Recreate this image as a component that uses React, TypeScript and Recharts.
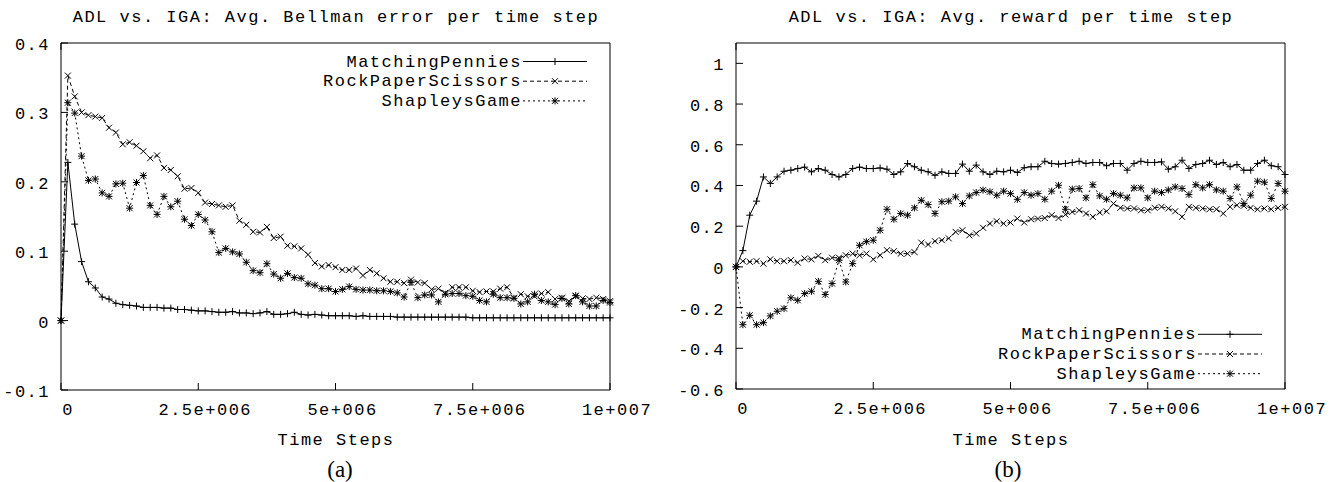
import React from "react";
import { Legend, Line, LineChart, ReferenceArea, XAxis, YAxis } from "recharts";

// time steps at which the averages were sampled
const TIME_STEPS = [
  0, 125000, 250000, 375000, 500000, 625000, 750000, 875000, 1000000, 1125000,
  1250000, 1375000, 1500000, 1625000, 1750000, 1875000, 2000000, 2125000, 2250000, 2375000,
  2500000, 2625000, 2750000, 2875000, 3000000, 3125000, 3250000, 3375000, 3500000, 3625000,
  3750000, 3875000, 4000000, 4125000, 4250000, 4375000, 4500000, 4625000, 4750000, 4875000,
  5000000, 5125000, 5250000, 5375000, 5500000, 5625000, 5750000, 5875000, 6000000, 6125000,
  6250000, 6375000, 6500000, 6625000, 6750000, 6875000, 7000000, 7125000, 7250000, 7375000,
  7500000, 7625000, 7750000, 7875000, 8000000, 8125000, 8250000, 8375000, 8500000, 8625000,
  8750000, 8875000, 9000000, 9125000, 9250000, 9375000, 9500000, 9625000, 9750000, 9875000,
  10000000,
];

const X_TICKS = [0, 2500000, 5000000, 7500000, 10000000];
const X_TICK_LABELS = ["0", "2.5e+006", "5e+006", "7.5e+006", "1e+007"];

const BELLMAN_Y_TICKS = [-0.1, 0, 0.1, 0.2, 0.3, 0.4];
const BELLMAN_Y_LABELS = ["-0.1", "0", "0.1", "0.2", "0.3", "0.4"];
const REWARD_Y_TICKS = [-0.6, -0.4, -0.2, 0, 0.2, 0.4, 0.6, 0.8, 1];
const REWARD_Y_LABELS = ["-0.6", "-0.4", "-0.2", "0", "0.2", "0.4", "0.6", "0.8", "1"];

const SERIES_NAMES = ["MatchingPennies", "RockPaperScissors", "ShapleysGame"];

// (a) avg. Bellman error
const BELLMAN_MP = [
  0, 0.228, 0.139, 0.085, 0.056, 0.047, 0.034, 0.031, 0.025, 0.023,
  0.022, 0.021, 0.019, 0.019, 0.019, 0.018, 0.018, 0.016, 0.016, 0.015,
  0.014, 0.014, 0.013, 0.012, 0.012, 0.013, 0.011, 0.011, 0.010, 0.011,
  0.013, 0.009, 0.009, 0.010, 0.012, 0.009, 0.008, 0.009, 0.008, 0.007,
  0.007, 0.007, 0.007, 0.006, 0.007, 0.006, 0.006, 0.006, 0.006, 0.005,
  0.005, 0.005, 0.005, 0.005, 0.005, 0.005, 0.005, 0.005, 0.005, 0.005,
  0.004, 0.004, 0.004, 0.004, 0.004, 0.004, 0.004, 0.004, 0.004, 0.004,
  0.004, 0.004, 0.004, 0.004, 0.004, 0.004, 0.004, 0.004, 0.004, 0.004, 0.004,
];
const BELLMAN_RPS = [
  0, 0.353, 0.323, 0.300, 0.296, 0.294, 0.292, 0.278, 0.271, 0.254,
  0.257, 0.252, 0.244, 0.234, 0.238, 0.220, 0.217, 0.208, 0.190, 0.191,
  0.184, 0.170, 0.168, 0.166, 0.164, 0.166, 0.144, 0.138, 0.128, 0.127,
  0.135, 0.119, 0.121, 0.108, 0.107, 0.104, 0.095, 0.083, 0.078, 0.080,
  0.077, 0.073, 0.073, 0.075, 0.065, 0.073, 0.068, 0.061, 0.056, 0.056,
  0.054, 0.059, 0.055, 0.054, 0.045, 0.046, 0.040, 0.048, 0.048, 0.048,
  0.043, 0.041, 0.042, 0.042, 0.046, 0.048, 0.033, 0.038, 0.035, 0.035,
  0.039, 0.041, 0.031, 0.033, 0.028, 0.035, 0.032, 0.031, 0.033, 0.031, 0.028,
];
const BELLMAN_SG = [
  0, 0.314, 0.299, 0.237, 0.202, 0.204, 0.184, 0.179, 0.197, 0.198,
  0.162, 0.199, 0.209, 0.166, 0.153, 0.179, 0.164, 0.172, 0.146, 0.137,
  0.153, 0.145, 0.128, 0.098, 0.104, 0.099, 0.096, 0.084, 0.072, 0.069,
  0.082, 0.067, 0.061, 0.068, 0.062, 0.061, 0.053, 0.051, 0.046, 0.046,
  0.042, 0.045, 0.049, 0.045, 0.044, 0.044, 0.043, 0.043, 0.042, 0.040,
  0.034, 0.055, 0.033, 0.037, 0.037, 0.027, 0.038, 0.039, 0.039, 0.036,
  0.035, 0.029, 0.027, 0.038, 0.033, 0.033, 0.032, 0.024, 0.027, 0.038,
  0.029, 0.027, 0.023, 0.032, 0.024, 0.036, 0.027, 0.021, 0.021, 0.029, 0.026,
];

// (b) avg. reward
const REWARD_MP = [
  0, 0.08, 0.254, 0.323, 0.442, 0.41, 0.442, 0.47, 0.475, 0.483,
  0.49, 0.467, 0.483, 0.475, 0.454, 0.442, 0.454, 0.483, 0.49, 0.483,
  0.483, 0.486, 0.48, 0.454, 0.467, 0.508, 0.492, 0.475, 0.467, 0.45,
  0.467, 0.459, 0.459, 0.505, 0.47, 0.5, 0.467, 0.454, 0.47, 0.467,
  0.475, 0.464, 0.487, 0.492, 0.492, 0.519, 0.508, 0.505, 0.508, 0.513,
  0.519, 0.508, 0.513, 0.513, 0.497, 0.508, 0.508, 0.475, 0.508, 0.519,
  0.513, 0.513, 0.516, 0.48, 0.492, 0.524, 0.483, 0.503, 0.508, 0.524,
  0.503, 0.513, 0.492, 0.503, 0.475, 0.475, 0.508, 0.524, 0.497, 0.492, 0.454,
];
const REWARD_RPS = [
  0, 0.028, 0.025, 0.028, 0.016, 0.037, 0.028, 0.028, 0.033, 0.021,
  0.041, 0.037, 0.054, 0.033, 0.045, 0.045, 0.057, 0.065, 0.057, 0.065,
  0.037, 0.057, 0.082, 0.077, 0.065, 0.065, 0.073, 0.119, 0.110, 0.126,
  0.131, 0.140, 0.172, 0.180, 0.155, 0.164, 0.192, 0.213, 0.224, 0.213,
  0.218, 0.237, 0.218, 0.234, 0.237, 0.240, 0.254, 0.240, 0.257, 0.270,
  0.278, 0.262, 0.246, 0.267, 0.273, 0.311, 0.290, 0.287, 0.287, 0.278,
  0.278, 0.290, 0.295, 0.287, 0.273, 0.246, 0.295, 0.290, 0.287, 0.283,
  0.283, 0.262, 0.295, 0.303, 0.300, 0.290, 0.283, 0.287, 0.283, 0.290, 0.295,
];
const REWARD_SG = [
  0, -0.284, -0.238, -0.284, -0.274, -0.241, -0.218, -0.205, -0.152, -0.164,
  -0.131, -0.12, -0.071, -0.136, -0.082, 0.033, -0.074, 0.016, 0.106, 0.124,
  0.131, 0.18, 0.283, 0.234, 0.262, 0.254, 0.29, 0.327, 0.306, 0.262,
  0.32, 0.323, 0.344, 0.311, 0.349, 0.365, 0.377, 0.369, 0.352, 0.372,
  0.36, 0.332, 0.365, 0.352, 0.36, 0.332, 0.372, 0.401, 0.283, 0.382,
  0.385, 0.339, 0.404, 0.349, 0.332, 0.36, 0.352, 0.339, 0.388, 0.388,
  0.339, 0.372, 0.365, 0.378, 0.393, 0.385, 0.355, 0.404, 0.388, 0.404,
  0.378, 0.372, 0.336, 0.393, 0.311, 0.352, 0.421, 0.416, 0.336, 0.41, 0.372,
];

const MONO: React.CSSProperties = {
  fontFamily: "'Liberation Mono', monospace",
  fontSize: 17,
  letterSpacing: "1.5px",
};

const LINE_STYLE: Record<string, { dash?: string; marker: string }> = {
  MatchingPennies: { marker: "plus" },
  RockPaperScissors: { dash: "4 3", marker: "cross" },
  ShapleysGame: { dash: "2 3", marker: "star" },
};

const TICK_LEN = 7;

function Marker({ cx, cy, kind }: { cx: number; cy: number; kind: string }) {
  const s = 3.5;
  const d = 3;
  let path = "";
  if (kind === "plus" || kind === "star") path += `M${cx - s},${cy}H${cx + s}M${cx},${cy - s}V${cy + s}`;
  if (kind === "cross" || kind === "star")
    path += `M${cx - d},${cy - d}L${cx + d},${cy + d}M${cx - d},${cy + d}L${cx + d},${cy - d}`;
  return <path d={path} stroke="#000" strokeWidth={1} fill="none" strokeDasharray="none" />;
}

function buildRows(mp: number[], rps: number[], sg: number[]) {
  return TIME_STEPS.map((t, i) => ({
    t,
    MatchingPennies: mp[i],
    RockPaperScissors: rps[i],
    ShapleysGame: sg[i],
  }));
}

interface PanelProps {
  width: number;
  yAxisWidth: number;
  rightMargin: number;
  bottomMargin: number;
  yDomain: [number, number];
  yTicks: number[];
  yLabels: string[];
  rows: any[];
  legendLeft: number;
  legendTop: number;
  legendTextEnd: number;
  legendRowY: number;
}

const Panel: React.FC<PanelProps> = ({
  width,
  yAxisWidth,
  rightMargin,
  bottomMargin,
  yDomain,
  yTicks,
  yLabels,
  rows,
  legendLeft,
  legendTop,
  legendTextEnd,
  legendRowY,
}) => {
  const bottomTick = ({ x, y, payload }: any) => (
    <g>
      <line x1={x} y1={y} x2={x} y2={y - TICK_LEN} stroke="#000" />
      <text x={x + 7} y={y + 25} textAnchor="middle" fill="#000" style={MONO}>
        {X_TICK_LABELS[X_TICKS.indexOf(payload.value)]}
      </text>
    </g>
  );
  const topTick = ({ x, y }: any) => <line x1={x} y1={y} x2={x} y2={y + TICK_LEN} stroke="#000" />;
  const leftTick = ({ x, y, payload }: any) => (
    <g>
      <line x1={x} y1={y} x2={x + TICK_LEN} y2={y} stroke="#000" />
      <text x={x - 11} y={y + 7} textAnchor="end" fill="#000" style={MONO}>
        {yLabels[yTicks.indexOf(payload.value)]}
      </text>
    </g>
  );
  const rightTick = ({ x, y }: any) => <line x1={x} y1={y} x2={x - TICK_LEN} y2={y} stroke="#000" />;

  const renderLegend = ({ payload }: any) => (
    <svg width={400} height={70} style={{ display: "block" }}>
      {(payload || []).map((entry: any, i: number) => {
        const name = entry.value;
        const st = LINE_STYLE[name];
        const y = legendRowY + i * 19.7;
        return (
          <g key={name}>
            <text x={legendTextEnd} y={y + 5} textAnchor="end" fill="#000" style={MONO}>
              {name}
            </text>
            <line
              x1={legendTextEnd + 1}
              x2={legendTextEnd + 65}
              y1={y}
              y2={y}
              stroke="#000"
              strokeDasharray={st.dash}
            />
            <Marker cx={legendTextEnd + 33} cy={y} kind={st.marker} />
          </g>
        );
      })}
    </svg>
  );

  return (
    <LineChart
      width={width}
      height={482}
      data={rows}
      margin={{ top: 42, right: rightMargin - 1, bottom: bottomMargin - 30, left: 0 }}
    >
      <XAxis
        xAxisId="b"
        dataKey="t"
        type="number"
        domain={[0, 10000000]}
        ticks={X_TICKS}
        interval={0}
        height={30}
        tickSize={0}
        tickMargin={0}
        axisLine={false}
        tickLine={false}
        tick={bottomTick}
      />
      <XAxis
        xAxisId="t"
        orientation="top"
        type="number"
        domain={[0, 10000000]}
        ticks={X_TICKS}
        interval={0}
        height={1}
        tickSize={0}
        tickMargin={0}
        axisLine={false}
        tickLine={false}
        tick={topTick}
      />
      <YAxis
        yAxisId="l"
        type="number"
        domain={yDomain}
        ticks={yTicks}
        interval={0}
        width={yAxisWidth}
        tickSize={0}
        tickMargin={0}
        axisLine={false}
        tickLine={false}
        tick={leftTick}
      />
      <YAxis
        yAxisId="r"
        orientation="right"
        type="number"
        domain={yDomain}
        ticks={yTicks}
        interval={0}
        width={1}
        tickSize={0}
        tickMargin={0}
        axisLine={false}
        tickLine={false}
        tick={rightTick}
      />
      <ReferenceArea
        xAxisId="b"
        yAxisId="l"
        x1={0}
        x2={10000000}
        y1={yDomain[0]}
        y2={yDomain[1]}
        fill="none"
        fillOpacity={0}
        stroke="#000"
        strokeWidth={1}
        ifOverflow="visible"
      />
      {SERIES_NAMES.map((name) => (
        <Line
          key={name}
          xAxisId="b"
          yAxisId="l"
          type="linear"
          dataKey={name}
          name={name}
          stroke="#000"
          strokeWidth={1}
          strokeDasharray={LINE_STYLE[name].dash}
          dot={(p: any) => <Marker key={`${name}-${p.index}`} cx={p.cx} cy={p.cy} kind={LINE_STYLE[name].marker} />}
          activeDot={false}
          isAnimationActive={false}
        />
      ))}
      <Legend
        layout="vertical"
        align="center"
        verticalAlign="middle"
        wrapperStyle={{ left: legendLeft, top: legendTop, width: 400, height: 70 }}
        content={renderLegend}
      />
    </LineChart>
  );
};

export default function App() {
  const bellmanRows = buildRows(BELLMAN_MP, BELLMAN_RPS, BELLMAN_SG);
  const rewardRows = buildRows(REWARD_MP, REWARD_RPS, REWARD_SG);

  return (
    <div style={{ position: "absolute", left: 0, top: 0, width: 1336, height: 482, background: "#fff" }}>
      <div style={{ position: "absolute", left: 0, top: 0 }}>
        <Panel
          width={660}
          yAxisWidth={61}
          rightMargin={50}
          bottomMargin={92}
          yDomain={[-0.1, 0.4]}
          yTicks={BELLMAN_Y_TICKS}
          yLabels={BELLMAN_Y_LABELS}
          rows={bellmanRows}
          legendLeft={200}
          legendTop={50}
          legendTextEnd={322}
          legendRowY={11.5}
        />
      </div>
      <div style={{ position: "absolute", left: 660, top: 0 }}>
        <Panel
          width={676}
          yAxisWidth={76}
          rightMargin={51}
          bottomMargin={93}
          yDomain={[-0.6, 1.1]}
          yTicks={REWARD_Y_TICKS}
          yLabels={REWARD_Y_LABELS}
          rows={rewardRows}
          legendLeft={220}
          legendTop={320}
          legendTextEnd={317}
          legendRowY={14.3}
        />
      </div>
      <svg
        width={1336}
        height={482}
        style={{ position: "absolute", left: 0, top: 0, pointerEvents: "none" }}
      >
        <text x={336} y={21.7} textAnchor="middle" fill="#000" style={MONO}>
          ADL vs. IGA: Avg. Bellman error per time step
        </text>
        <text x={1011} y={21.7} textAnchor="middle" fill="#000" style={MONO}>
          ADL vs. IGA: Avg. reward per time step
        </text>
        <text x={336} y={445} textAnchor="middle" fill="#000" style={MONO}>
          Time Steps
        </text>
        <text x={1011} y={445} textAnchor="middle" fill="#000" style={MONO}>
          Time Steps
        </text>
        <text x={340} y={477} textAnchor="middle" fill="#000" fontFamily="'Liberation Serif', serif" fontSize={23}>
          (a)
        </text>
        <text x={1008} y={477} textAnchor="middle" fill="#000" fontFamily="'Liberation Serif', serif" fontSize={23}>
          (b)
        </text>
      </svg>
    </div>
  );
}
